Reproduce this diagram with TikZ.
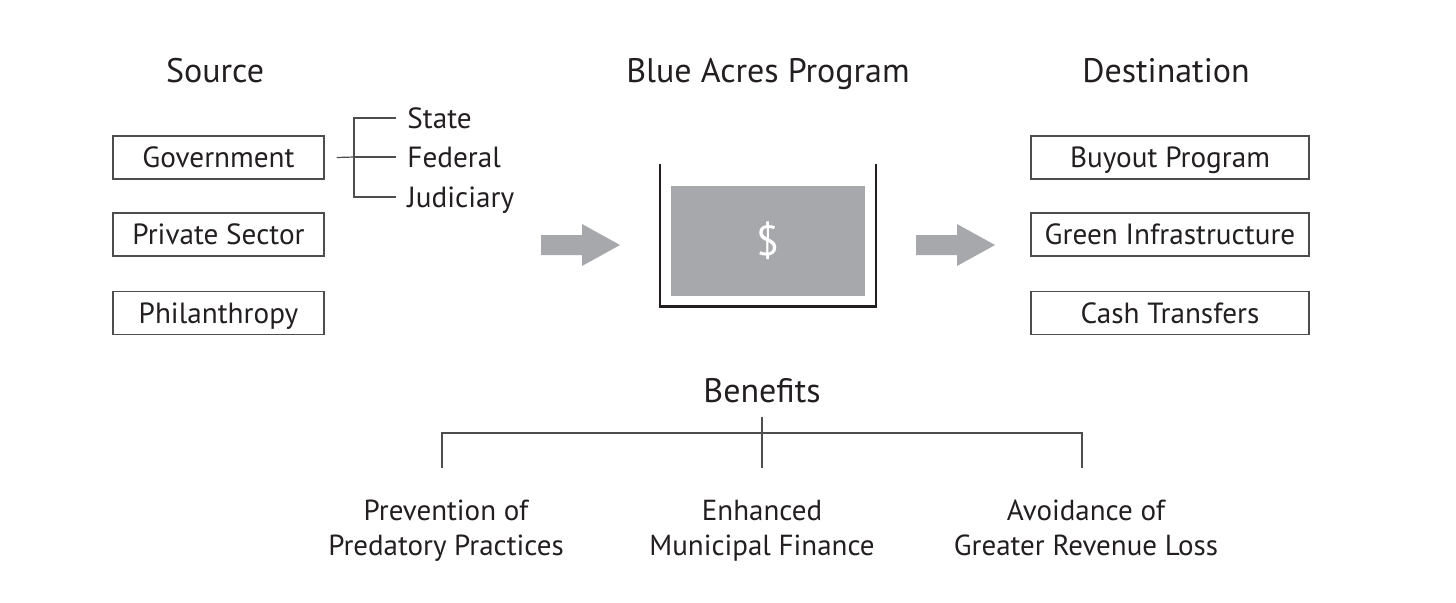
\documentclass[tikz,border=0pt]{standalone}
\usepackage{fontspec}
\setmainfont{PT Sans}
\usepackage{xcolor}
\usetikzlibrary{positioning,calc}
\definecolor{fundgray}{HTML}{A7A8AB}
\definecolor{boxline}{HTML}{4D4D4F}
\definecolor{inkblack}{HTML}{231F20}
\tikzset{
  heading/.style={font=\fontsize{17}{20}\selectfont,text=inkblack,text height=12pt,text depth=0pt},
  itembox/.style={draw=boxline,line width=0.6pt,minimum height=21.5pt,inner sep=0pt,
    font=\fontsize{14.6}{17}\selectfont,text=inkblack,text height=10.2pt,text depth=0pt},
  branchlbl/.style={anchor=west,inner sep=5.5pt,font=\fontsize{14.6}{17}\selectfont,
    text=inkblack,text height=10.2pt,text depth=0pt},
  benefit/.style={anchor=north,align=center,font=\fontsize{14.5}{17.5}\selectfont,text=inkblack},
  treeline/.style={draw=boxline,line width=0.6pt},
  pics/flowarrow/.style={code={
    \fill[fundgray] (0,-10) -- (41,-10) -- (41,-21) -- (79,0) -- (41,21) -- (41,10) -- (0,10) -- cycle;
  }}
}
\begin{document}
\begin{tikzpicture}[x=0.5pt,y=-0.5pt]
  \useasboundingbox (0,0) rectangle (1456,602);
  \node[heading] (src) at (215,70) {Source};
  \node[heading] (prog) at (768,70) {Blue Acres Program};
  \node[heading] (dest) at (1166,70) {Destination};
  \node[itembox,minimum width=105.5pt] (gov) at (218.5,157.5) {Government};
  \node[itembox,minimum width=105.5pt] (priv) at (218.5,234.5) {Private Sector};
  \node[itembox,minimum width=105.5pt] (phil) at (218.5,313) {Philanthropy};
  \node[branchlbl] (state) at (396,118) {State};
  \node[branchlbl] (fed) at (396,157) {Federal};
  \node[branchlbl] (jud) at (396,197) {Judiciary};
  \coordinate (fork) at (354,157);
  \draw[treeline] ([xshift=6pt]gov.east) -- (fork);
  \draw[treeline] (state.west) -| (fork) |- (jud.west);
  \draw[treeline] (fork) -- (fed.west);
  \pic at (541,245) {flowarrow};
  \node[fill=fundgray,minimum width=97pt,minimum height=55pt,inner sep=0pt,text=white,
    font=\fontsize{21}{24}\selectfont] (fund) at (768,241) {\$};
  \draw[inkblack,line width=1.1pt] (660,164) -- (660,306.5) -- (876,306.5) -- (876,164);
  \pic at (916,245) {flowarrow};
  \node[itembox,minimum width=139pt] (buy) at (1170,157.5) {Buyout Program};
  \node[itembox,minimum width=139pt] (green) at (1170,234.5) {Green Infrastructure};
  \node[itembox,minimum width=139pt] (cash) at (1170,313) {Cash Transfers};
  \node[heading] (ben) at (762,390) {Benefits};
  \node[benefit] (b1) at (446,493) {Prevention of\\Predatory Practices};
  \node[benefit] (b2) at (762,493) {Enhanced\\Municipal Finance};
  \node[benefit] (b3) at (1086,493) {Avoidance of\\Greater Revenue Loss};
  \coordinate (bar) at (762,433);
  \coordinate (t1) at (442,468);
  \coordinate (t2) at (762,468);
  \coordinate (t3) at (1082,468);
  \draw[treeline] ([yshift=-4pt]ben.south) -- (t2);
  \draw[treeline] (t1) -- (t1 |- bar) -- (t3 |- bar) -- (t3);
\end{tikzpicture}
\end{document}
